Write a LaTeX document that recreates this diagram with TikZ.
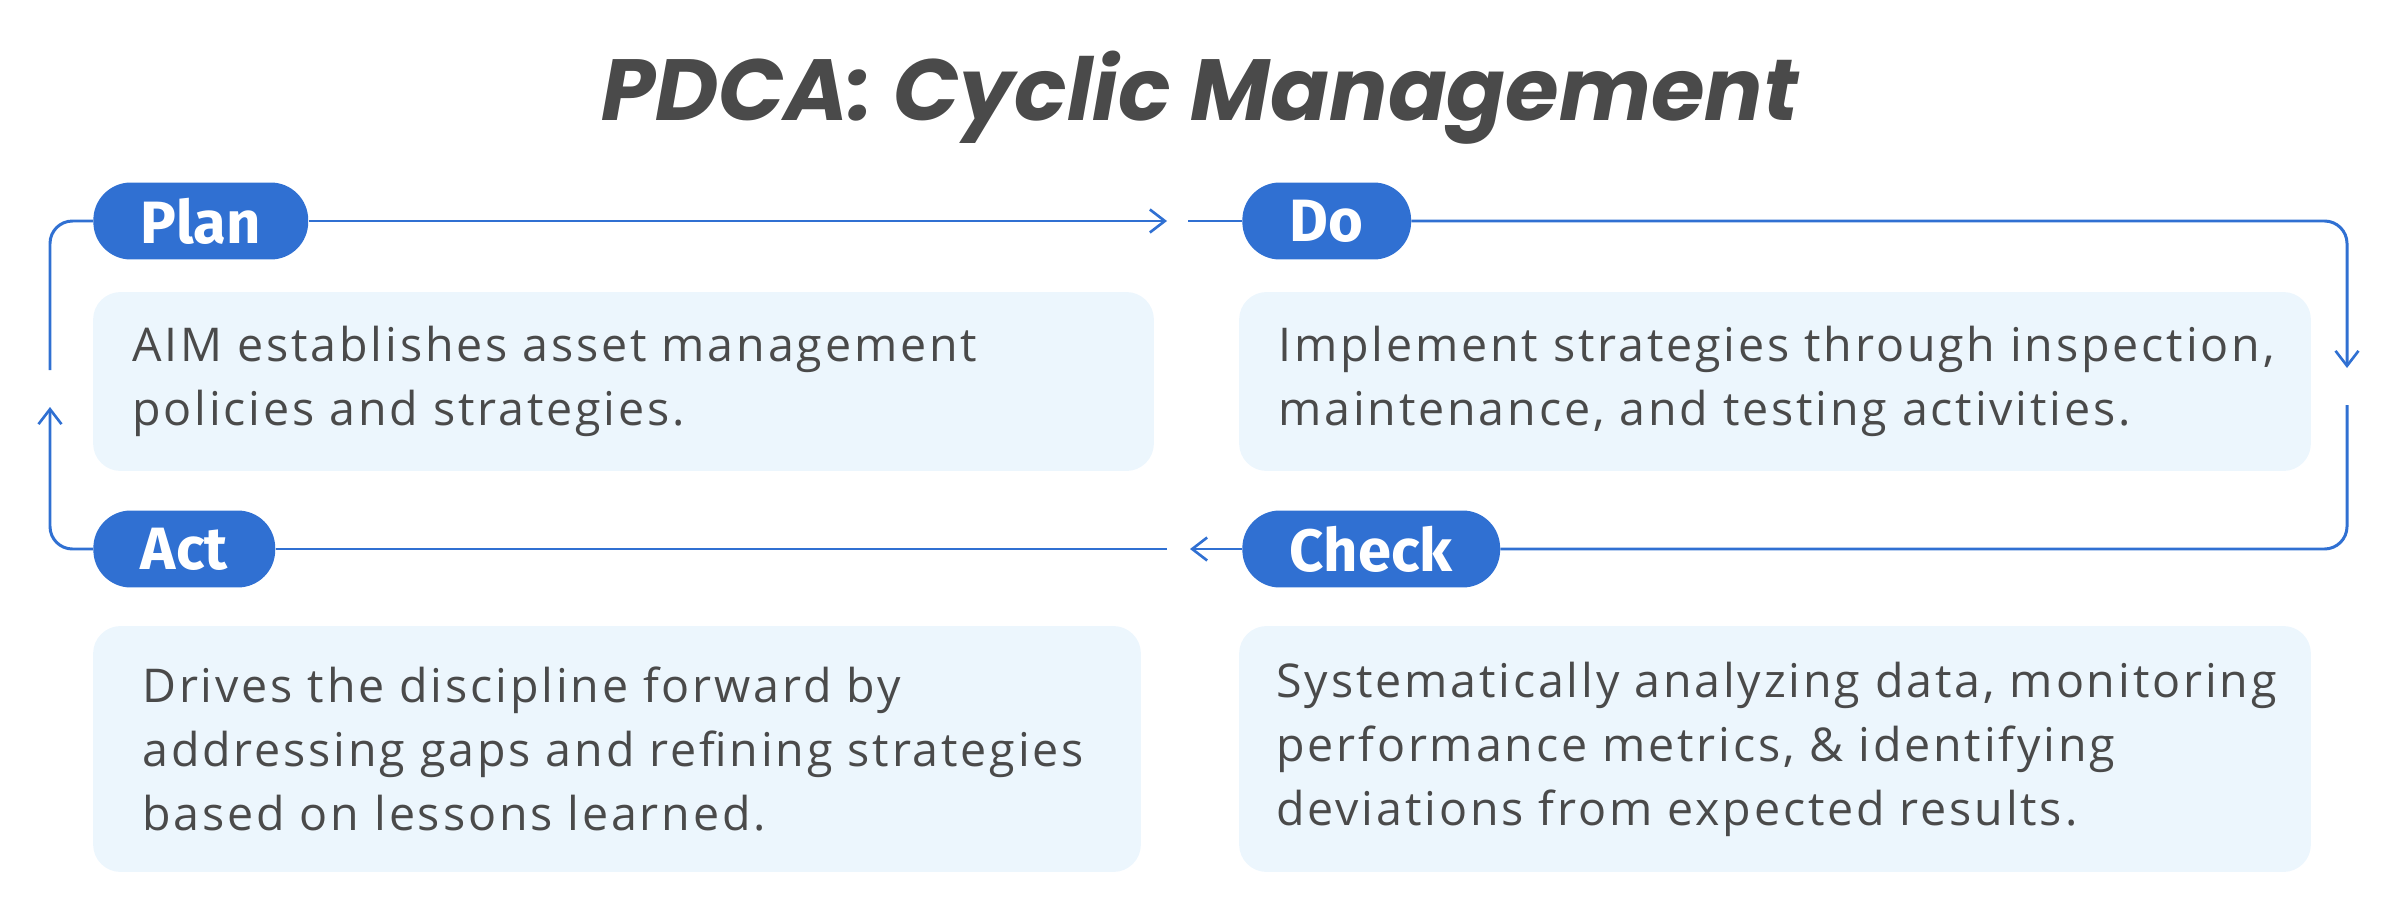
\documentclass[tikz,border=0pt]{standalone}
\usepackage{fontspec}
\usepackage{xcolor}
\usepackage{tikz}
\usetikzlibrary{arrows.meta}
\setmainfont{Fira Sans}
\newfontfamily\bodyfont{Open Sans}[LetterSpace=6.1]
\newfontfamily\titlefont{Poppins}
\definecolor{pillblue}{HTML}{3070D2}
\definecolor{boxfill}{HTML}{ECF6FD}
\definecolor{inktext}{HTML}{4A4A4A}
\tikzset{
  pill/.style={fill=pillblue, text=white, rounded corners=0.75cm, minimum height=1.54cm,
    inner xsep=0.95cm, inner ysep=0pt, anchor=west, font=\fontsize{34}{36}\selectfont\bfseries},
  infobox/.style={fill=boxfill, rounded corners=0.55cm, inner sep=0pt},
  infotext/.style={text=inktext, align=left, anchor=west, inner sep=0pt,
    font=\bodyfont\fontsize{26.5}{36.4}\selectfont},
  flow/.style={draw=pillblue, line width=1.7pt, rounded corners=0.45cm},
  flowtip/.style={-{Straight Barb[length=0.3cm,width=0.46cm,line width=1.5pt]}}
}
\begin{document}
\begin{tikzpicture}[x=0.02cm,y=-0.02cm]
                \useasboundingbox (0,0) rectangle (2400,919);
                \node[text=inktext, anchor=base, font=\titlefont\bfseries\itshape\fontsize{49.4}{60}\selectfont] (title) at (1200,121) {PDCA: Cyclic Management};

                \node[infobox, minimum width=21.22cm, minimum height=3.58cm] (planbox) at (623.5,381.5) {};
                \node[infobox, minimum width=21.44cm, minimum height=3.58cm] (dobox) at (1775,381.5) {};
                \node[infobox, minimum width=20.96cm, minimum height=4.92cm] (actbox) at (617,749) {};
                \node[infobox, minimum width=21.44cm, minimum height=4.92cm] (checkbox) at (1775,749) {};

                \node[infotext] (plantext) at (132,381.5) {AIM establishes asset management\\policies and strategies.};
                \node[infotext] (dotext) at (1278,381.5) {Implement strategies through inspection,\\maintenance, and testing activities.};
                \node[infotext] (acttext) at (142,749) {Drives the discipline forward by\\addressing gaps and refining strategies\\based on lessons learned.};
                \node[infotext] (checktext) at (1276,749) {Systematically analyzing data, monitoring\\performance metrics, \& identifying\\deviations from expected results.};

                \coordinate (pdtip) at (1167,221);
                \coordinate (pdgap) at (1188,221);
                \coordinate (dctip) at (2347,368);
                \coordinate (dcgap) at (2347,405);
                \coordinate (catip) at (1190,549);
                \coordinate (cagap) at (1167,549);
                \coordinate (aptip) at (50,407);
                \coordinate (apgap) at (50,370);

                \node[pill] (plan) at (93,221) {Plan};
                \node[pill] (do) at (1242,221) {Do};
                \node[pill] (act) at (93,549) {Act};
                \node[pill] (check) at (1242,549) {Check};

                \draw[flow, flowtip] (plan.east) -- (pdtip);
                \draw[flow] (pdgap) -- (do.west);
                \draw[flow, flowtip] (do.east) -| (dctip);
                \draw[flow] (dcgap) |- (check.east);
                \draw[flow, flowtip] (check.west) -- (catip);
                \draw[flow] (cagap) -- (act.east);
                \draw[flow, flowtip] (act.west) -| (aptip);
                \draw[flow] (apgap) |- (plan.west);
            \end{tikzpicture}
\end{document}
